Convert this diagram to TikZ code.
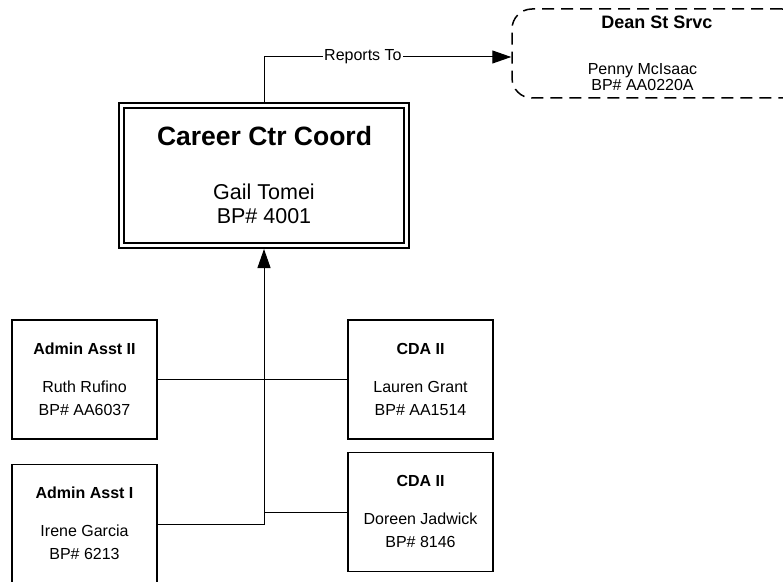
\documentclass[tikz,border=0pt]{standalone}
\usepackage{fontspec}
\setmainfont{Liberation Sans}
\usetikzlibrary{arrows.meta,calc}
\tikzset{
  box/.style={draw=black, line width=1.5bp, rectangle, inner sep=0pt, minimum width=145bp, minimum height=119bp},
  mainbox/.style={draw=black, line width=2bp, rectangle, inner sep=0pt, minimum width=290bp, minimum height=145bp},
  deanbox/.style={draw=black, line width=1.5bp, dash pattern=on 12bp off 7bp, rounded corners=20bp, rectangle, inner sep=0pt, minimum width=290bp, minimum height=89bp},
  txt/.style={anchor=base, inner sep=0pt, font=\fontsize{16bp}{18bp}\selectfont},
  btxt/.style={txt, font=\fontsize{16bp}{18bp}\selectfont\bfseries},
  conn/.style={draw=black, line width=1bp},
  arr/.style={conn, -{Triangle[length=19bp, width=13bp]}},
}
\begin{document}
\begin{tikzpicture}[x=1bp, y=-1bp]
\useasboundingbox (0,0) rectangle (783,582);
% boxes
\node[mainbox] (main) at (264,175.5) {};
\draw[line width=1.2bp] ($(main.north west)+(6,6)$) rectangle ($(main.south east)+(-6,-6)$);
\node[deanbox] (dean) at (657,53.5) {};
\node[box] (aa2) at (84.5,379.5) {};
\node[box] (aa1) at (84.5,524) {};
\node[box] (cda1) at (420.5,379.5) {};
\node[box] (cda2) at (420.5,512) {};
% texts
\node[anchor=base, inner sep=0pt, font=\fontsize{26.5bp}{30bp}\selectfont\bfseries] (mt) at (264.5,146) {Career Ctr Coord};
\node[anchor=base, inner sep=0pt, font=\fontsize{21.5bp}{24bp}\selectfont] (mn) at (264,200) {Gail Tomei};
\node[anchor=base, inner sep=0pt, font=\fontsize{21.5bp}{24bp}\selectfont] (mb) at (264,224) {BP\# 4001};
\node[anchor=base, inner sep=0pt, font=\fontsize{18bp}{20bp}\selectfont\bfseries] (dt) at (657,28.5) {Dean St Srvc};
\node[txt] (dn) at (642.5,75) {Penny McIsaac};
\node[txt] (db) at (642.5,91) {BP\# AA0220A};
\node[btxt] (a2t) at (84.5,354) {Admin Asst II};
\node[txt] (a2n) at (84.5,392) {Ruth Rufino};
\node[txt] (a2b) at (84.5,415.5) {BP\# AA6037};
\node[btxt] (a1t) at (84.5,498) {Admin Asst I};
\node[txt] (a1n) at (84.5,536) {Irene Garcia};
\node[txt] (a1b) at (84.5,559.5) {BP\# 6213};
\node[btxt] (c1t) at (420.5,354) {CDA II};
\node[txt] (c1n) at (420.5,392) {Lauren Grant};
\node[txt] (c1b) at (420.5,415.5) {BP\# AA1514};
\node[btxt] (c2t) at (420.5,486) {CDA II};
\node[txt] (c2n) at (420.5,524) {Doreen Jadwick};
\node[txt] (c2b) at (420.5,547.5) {BP\# 8146};
% connectors
\coordinate (rt) at ($(dean.west)+(0,3.5)$);
\draw[arr] (main.north) |- (rt)
  node[pos=0.70, fill=white, inner sep=1bp, font=\fontsize{16bp}{18bp}\selectfont] (rlab) {Reports To};
\draw[arr] (aa1.east) -| (main.south);
\draw[conn] (aa2.east) -- (cda1.west);
\draw[conn] (cda2.west) -- (cda2.west -| main.south);
\end{tikzpicture}
\end{document}
